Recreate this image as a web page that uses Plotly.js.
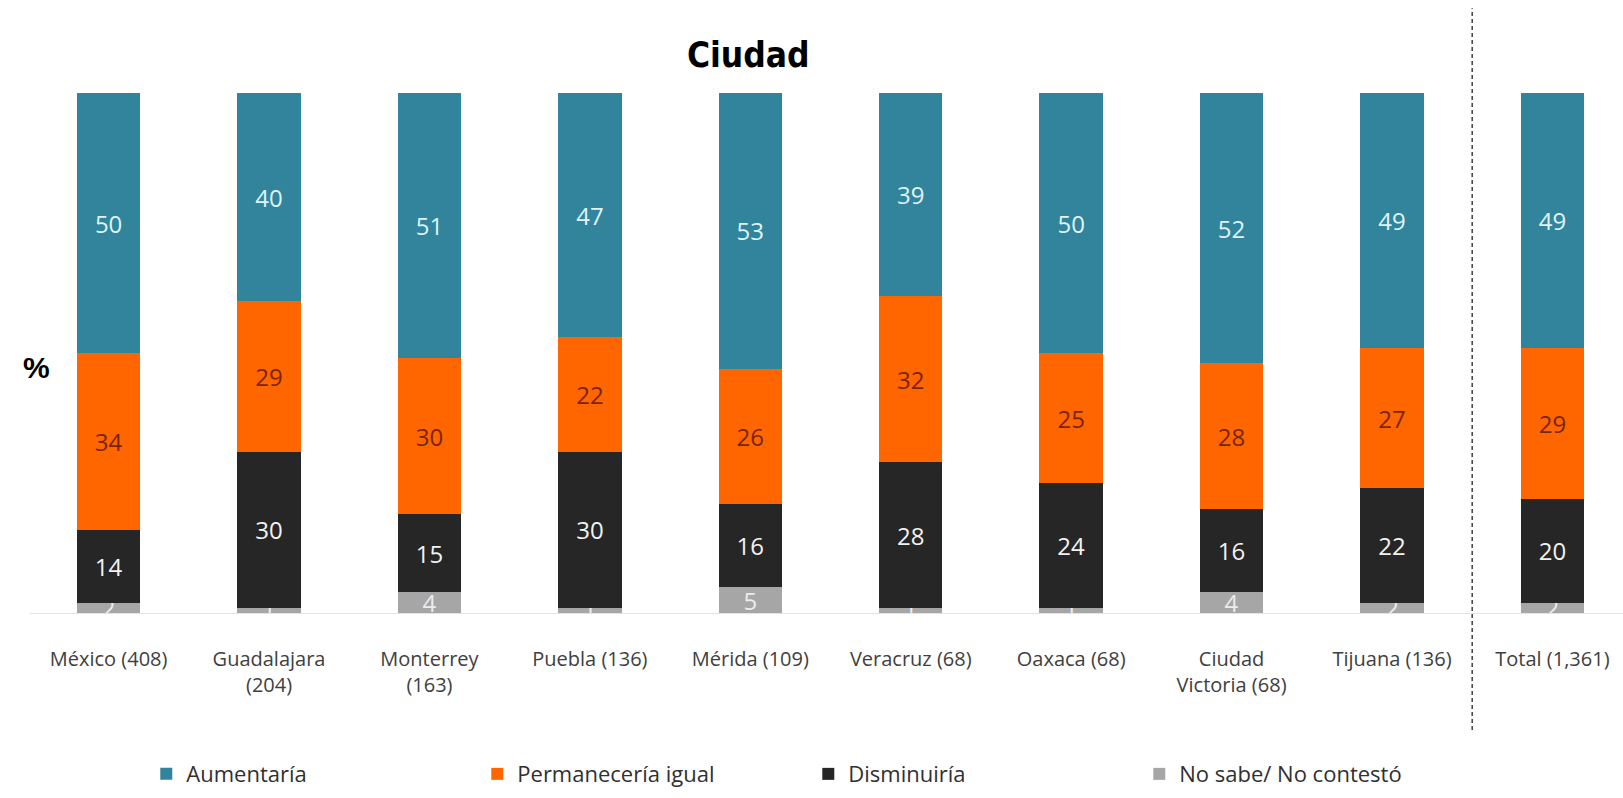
<!DOCTYPE html>
<html>
<head>
<meta charset="utf-8">
<script src="https://cdn.plot.ly/plotly-3.0.1.min.js"></script>
<style>html,body{margin:0;padding:0;background:#fff;}#chart{width:1623px;height:798px;}</style>
</head>
<body>
<div id="chart"></div>
<script>
const categories = ["México (408)", "Guadalajara<br>(204)", "Monterrey<br>(163)", "Puebla (136)", "Mérida (109)", "Veracruz (68)", "Oaxaca (68)", "Ciudad<br>Victoria (68)", "Tijuana (136)", "Total (1,361)"];
const noSabe       = [2, 1, 4, 1, 5, 1, 1, 4, 2, 2];
const disminuiria  = [14, 30, 15, 30, 16, 28, 24, 16, 22, 20];
const permaneceria = [34, 29, 30, 22, 26, 32, 25, 28, 27, 29];
const aumentaria   = [50, 40, 51, 47, 53, 39, 50, 52, 49, 49];

const xIdx = categories.map((c, i) => i);
const labelFont = {family: "Open Sans, sans-serif", size: 24};

function series(name, vals, color, textColor) {
  return {
    type: "bar", name: name, x: xIdx, y: vals,
    marker: {color: color, line: {width: 0}},
    text: vals.map(String), textposition: "inside", insidetextanchor: "middle",
    constraintext: "none", textangle: 0,
    textfont: Object.assign({color: textColor}, labelFont),
    hoverinfo: "skip"
  };
}

const traces = [
  series("No sabe/ No contestó", noSabe, "#a6a6a6", "#ececec"),
  series("Disminuiría", disminuiria, "#262626", "#f2f2f2"),
  series("Permanecería igual", permaneceria, "#ff6600", "#7a2400"),
  series("Aumentaría", aumentaria, "#31849b", "#dff4fa")
];

const layout = {
  width: 1623, height: 798,
  margin: {l: 30, r: 0, t: 93, b: 185, autoexpand: false},
  paper_bgcolor: "#ffffff", plot_bgcolor: "#ffffff",
  barmode: "stack", bargap: 0.605,
  showlegend: true,
  legend: {
    orientation: "h", traceorder: "reversed",
    xref: "paper", x: 0.073, xanchor: "left",
    yref: "container", y: 0.03, yanchor: "middle",
    entrywidth: 286, entrywidthmode: "pixels",
    font: {family: "Open Sans, sans-serif", size: 22, color: "#303030"},
    itemwidth: 30
  },
  title: {
    text: "<b>Ciudad</b>", xref: "container", yref: "container",
    x: 0.461, xanchor: "center", y: 0.932, yanchor: "middle",
    font: {family: "Liberation Sans Narrow, DejaVu Sans Condensed, sans-serif", size: 35, color: "#000"}
  },
  xaxis: {
    range: [-0.49, 9.44], tickmode: "array", tickvals: xIdx, ticktext: categories,
    tickfont: {family: "Open Sans, sans-serif", size: 20, color: "#404040"},
    ticklabelstandoff: 32, automargin: false,
    showgrid: false, zeroline: false, showline: false, ticks: "", fixedrange: true
  },
  yaxis: {
    range: [0, 100], showticklabels: false, showgrid: false, automargin: false,
    zeroline: true, zerolinecolor: "#e3e3e3", zerolinewidth: 1, showline: false, fixedrange: true
  },
  annotations: [{
    text: "<b>%</b>", xref: "paper", yref: "paper", x: 0.004, y: 0.473,
    xanchor: "center", yanchor: "middle", showarrow: false,
    font: {family: "Liberation Sans, sans-serif", size: 30, color: "#000"}
  }],
  shapes: [{
    type: "line", xref: "x", yref: "paper", x0: 8.5, x1: 8.5, y0: -0.225, y1: 1.163,
    line: {color: "#404040", width: 1.5, dash: "4px,3px"}
  }]
};

Plotly.newPlot("chart", traces, layout, {staticPlot: true, displayModeBar: false});
</script>
</body>
</html>
